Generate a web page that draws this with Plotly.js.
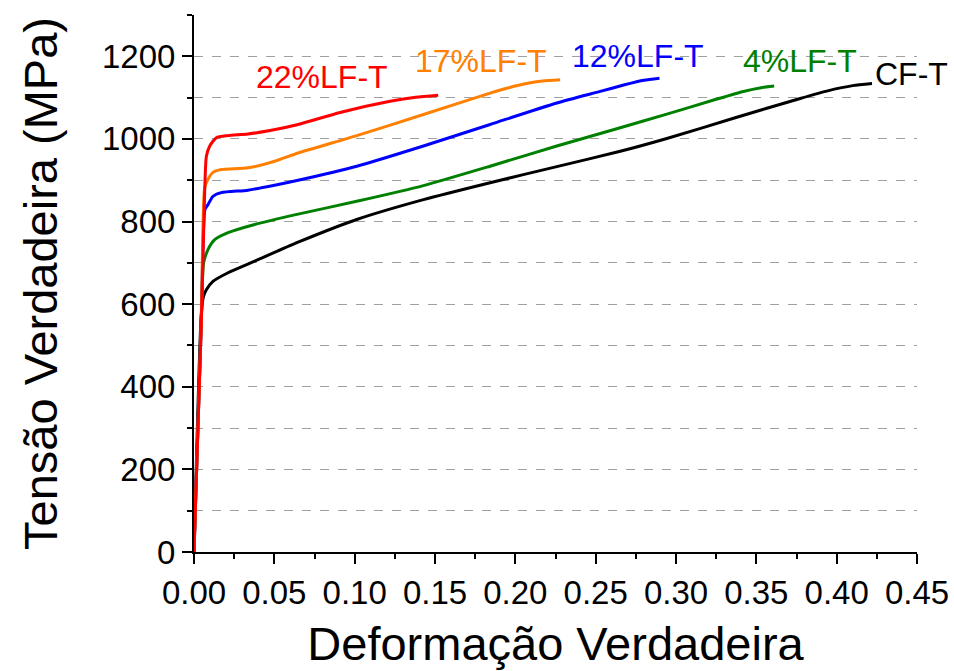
<!DOCTYPE html>
<html>
<head>
<meta charset="utf-8">
<script src="https://cdn.plot.ly/plotly-3.0.1.min.js"></script>
<style>
  html, body { margin: 0; padding: 0; background: #ffffff; }
  #chart { width: 954px; height: 671px; }
</style>
</head>
<body>
<div id="chart"></div>
<script>
// True stress vs. true strain curves for each specimen
const seriesNames = ["22%LF-T", "17%LF-T", "12%LF-T", "4%LF-T", "CF-T"];
const seriesColors = ["#ff0000", "#ff8000", "#0000ff", "#008000", "#000000"];

const strain22 = [0, 0.0046, 0.0062, 0.0077, 0.0098, 0.0139, 0.0212, 0.0336, 0.0481, 0.0648, 0.0909, 0.1220, 0.1380, 0.1520];
const stress22 = [0, 562, 805, 958, 983, 1003, 1008, 1012, 1021, 1035, 1064, 1091, 1101, 1106];

const strain17 = [0, 0.0046, 0.0066, 0.0087, 0.0118, 0.0170, 0.0336, 0.0502, 0.0648, 0.1013, 0.1428, 0.1843, 0.1960, 0.2070, 0.2170, 0.2279];
const stress17 = [0, 565, 880, 902, 919, 926, 930, 946, 966, 1008, 1059, 1111, 1124, 1134, 1140, 1143];

const strain12 = [0, 0.0046, 0.0068, 0.0087, 0.0118, 0.0170, 0.0336, 0.0502, 0.0648, 0.1013, 0.1428, 0.1843, 0.2258, 0.2528, 0.2680, 0.2800, 0.2897];
const stress12 = [0, 565, 829, 841, 861, 870, 876, 888, 900, 934, 983, 1035, 1087, 1115, 1131, 1142, 1147];

const strain4 = [0, 0.0046, 0.0060, 0.0087, 0.0129, 0.0212, 0.0378, 0.0648, 0.1013, 0.1428, 0.1843, 0.2258, 0.2653, 0.2943, 0.3250, 0.3420, 0.3530, 0.3611];
const stress4 = [0, 570, 700, 732, 756, 773, 793, 818, 849, 887, 934, 983, 1027, 1060, 1096, 1115, 1124, 1128];

const strainCF = [0, 0.0046, 0.0060, 0.0077, 0.0118, 0.0212, 0.0378, 0.0648, 0.1013, 0.1428, 0.1843, 0.2258, 0.2653, 0.2943, 0.3358, 0.3773, 0.3950, 0.4100, 0.4220];
const stressCF = [0, 580, 620, 635, 655, 676, 704, 750, 805, 853, 894, 933, 970, 1001, 1050, 1098, 1117, 1129, 1134];

const strains = [strain22, strain17, strain12, strain4, strainCF];
const stresses = [stress22, stress17, stress12, stress4, stressCF];

// Curve label positions (strain, stress)
const labelX = [0.0795, 0.1787, 0.2765, 0.3773, 0.4465];
const labelY = [1151, 1188, 1200, 1188, 1158];

const xTickVals = [0, 0.05, 0.10, 0.15, 0.20, 0.25, 0.30, 0.35, 0.40, 0.45];
const yTickVals = [0, 200, 400, 600, 800, 1000, 1200];

const FONT = "'Liberation Sans', Arial, Helvetica, sans-serif";

const traces = seriesNames.map((name, i) => ({
  type: "scatter",
  mode: "lines",
  name: name,
  x: strains[i],
  y: stresses[i],
  line: { color: seriesColors[i], width: 3, shape: "spline", smoothing: 0.6 },
  hoverinfo: "x+y+name"
}));

// draw the stiffest curve last so it stays on top in the elastic region
traces.reverse();

const annotations = seriesNames.map((name, i) => ({
  x: labelX[i],
  y: labelY[i],
  xref: "x",
  yref: "y",
  text: name,
  showarrow: false,
  xanchor: "center",
  yanchor: "middle",
  font: { family: FONT, size: 32, color: seriesColors[i] }
}));

const layout = {
  width: 954,
  height: 671,
  margin: { l: 194, r: 37, t: 15, b: 119 },
  paper_bgcolor: "#ffffff",
  plot_bgcolor: "#ffffff",
  showlegend: false,
  font: { family: FONT, color: "#000000" },
  xaxis: {
    range: [0, 0.45],
    tickvals: xTickVals,
    tickformat: ".2f",
    ticks: "outside",
    ticklen: 10,
    tickwidth: 2,
    tickcolor: "#000000",
    showline: true,
    linewidth: 2,
    linecolor: "#000000",
    showgrid: false,
    zeroline: false,
    tickfont: { family: FONT, size: 33, color: "#000000" },
    minor: { dtick: 0.025, tick0: 0, ticks: "outside", ticklen: 5, tickwidth: 2, tickcolor: "#000000", showgrid: false },
    title: { text: "Deformação Verdadeira", font: { family: FONT, size: 47, color: "#000000" }, standoff: 18 }
  },
  yaxis: {
    range: [0, 1300],
    tickvals: yTickVals,
    ticks: "outside",
    ticklen: 10,
    tickwidth: 2,
    tickcolor: "#000000",
    showline: true,
    linewidth: 2,
    linecolor: "#000000",
    showgrid: true,
    gridcolor: "#a0a0a0",
    gridwidth: 1,
    griddash: "dash",
    zeroline: false,
    tickfont: { family: FONT, size: 33, color: "#000000" },
    minor: { dtick: 100, tick0: 0, ticks: "outside", ticklen: 5, tickwidth: 2, tickcolor: "#000000", showgrid: true, gridcolor: "#a0a0a0", gridwidth: 1, griddash: "dash" },
    title: { text: "Tensão Verdadeira (MPa)", font: { family: FONT, size: 47, color: "#000000" }, standoff: 30 }
  },
  annotations: annotations
};

Plotly.newPlot("chart", traces, layout, { displayModeBar: false, staticPlot: true });
</script>
</body>
</html>
